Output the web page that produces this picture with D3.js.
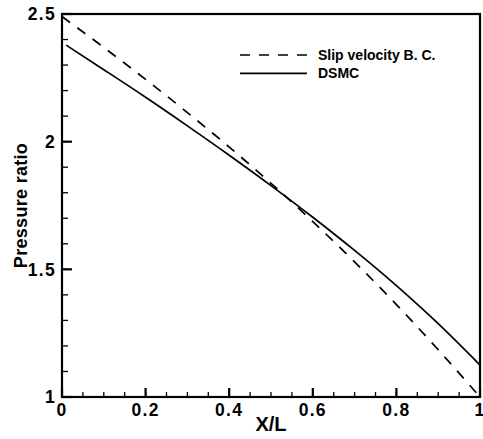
<!DOCTYPE html>
<html>
<head>
<meta charset="utf-8">
<script src="https://cdn.jsdelivr.net/npm/d3@7"></script>
<style>
  html, body { margin: 0; padding: 0; background: #fff; }
  svg { display: block; }
  text { font-family: "Liberation Sans", Arial, sans-serif; font-weight: bold; fill: #000; }
</style>
</head>
<body>
<svg width="483" height="439"></svg>
<script>
// data
var slipX = [0, 0.1, 0.2, 0.3, 0.4, 0.5, 0.6, 0.7, 0.8, 0.9, 1.0];
var slipP = [2.49, 2.369, 2.244, 2.114, 1.979, 1.837, 1.687, 1.529, 1.362, 1.185, 1.0];
var dsmcX = [0.01, 0.1, 0.2, 0.3, 0.4, 0.5, 0.6, 0.7, 0.8, 0.9, 1.0];
var dsmcP = [2.378, 2.282, 2.174, 2.062, 1.947, 1.828, 1.704, 1.574, 1.436, 1.287, 1.125];
var xTicks = [0, 0.2, 0.4, 0.6, 0.8, 1];
var yTicks = [1, 1.5, 2, 2.5];
var xMinor = d3.range(0.05, 1, 0.05);
var yMinor = d3.range(1.1, 2.45, 0.1);
var legendNames = ["Slip velocity B. C.", "DSMC"];

var svg = d3.select("svg"),
    margin = { top: 14, right: 3, bottom: 42, left: 62 },
    width = +svg.attr("width") - margin.left - margin.right,
    height = +svg.attr("height") - margin.top - margin.bottom;

var x = d3.scaleLinear().domain([0, 1]).range([0, width]),
    y = d3.scaleLinear().domain([1, 2.5]).range([height, 0]);

var g = svg.append("g").attr("transform", "translate(" + margin.left + "," + margin.top + ")");

// ticks, inward from bottom and left
g.selectAll(".xminor").data(xMinor).enter().append("line")
    .attr("x1", x).attr("x2", x).attr("y1", height).attr("y2", height - 5)
    .attr("stroke", "#000").attr("stroke-width", 1.3);
g.selectAll(".yminor").data(yMinor).enter().append("line")
    .attr("y1", y).attr("y2", y).attr("x1", 0).attr("x2", 6)
    .attr("stroke", "#000").attr("stroke-width", 1.3);
g.selectAll(".xmajor").data(xTicks).enter().append("line")
    .attr("x1", x).attr("x2", x).attr("y1", height).attr("y2", height - 9)
    .attr("stroke", "#000").attr("stroke-width", 2.2);
g.selectAll(".ymajor").data(yTicks).enter().append("line")
    .attr("y1", y).attr("y2", y).attr("x1", 0).attr("x2", 10)
    .attr("stroke", "#000").attr("stroke-width", 2.2);

// tick labels
g.selectAll(".xlab").data(xTicks).enter().append("text")
    .attr("x", x).attr("y", height + 18.5)
    .attr("text-anchor", "middle")
    .style("font-size", "17.5px").style("letter-spacing", "1.3px")
    .text(function (d) { return d; });
g.selectAll(".ylab").data(yTicks).enter().append("text")
    .attr("x", -6).attr("y", y).attr("dy", "0.36em")
    .attr("text-anchor", "end")
    .style("font-size", "17.5px").style("letter-spacing", "1.3px")
    .text(function (d) { return d; });

// frame
g.append("rect")
    .attr("width", width).attr("height", height)
    .attr("fill", "none").attr("stroke", "#000").attr("stroke-width", 2.2);

// curves
var line = d3.line()
    .x(function (d) { return x(d[0]); })
    .y(function (d) { return y(d[1]); })
    .curve(d3.curveMonotoneX);

g.append("path")
    .datum(d3.zip(slipX, slipP))
    .attr("d", line)
    .attr("fill", "none").attr("stroke", "#000").attr("stroke-width", 1.7)
    .attr("stroke-dasharray", "10,9");

g.append("path")
    .datum(d3.zip(dsmcX, dsmcP))
    .attr("d", line)
    .attr("fill", "none").attr("stroke", "#000").attr("stroke-width", 1.7);

// axis titles
g.append("text")
    .attr("x", width / 2).attr("y", height + 34)
    .attr("text-anchor", "middle").style("font-size", "20px")
    .text("X/L");
g.append("text")
    .attr("transform", "translate(" + (27 - margin.left) + "," + (height / 2) + ") rotate(-90)")
    .attr("text-anchor", "middle").style("font-size", "18px").style("letter-spacing", "0.3px")
    .text("Pressure ratio");

// legend
var leg = g.selectAll(".leg").data(legendNames).enter().append("g")
    .attr("class", "leg")
    .attr("transform", function (d, i) { return "translate(" + (240 - margin.left) + "," + (55 - margin.top + i * 18.3) + ")"; });
leg.append("line")
    .attr("x1", 0).attr("x2", 67)
    .attr("stroke", "#000").attr("stroke-width", 1.7)
    .attr("stroke-dasharray", function (d, i) { return i === 0 ? "10,9" : null; });
leg.append("text")
    .attr("x", 78).attr("y", 4.5)
    .style("font-size", "14px")
    .text(function (d) { return d; });
</script>
</body>
</html>
